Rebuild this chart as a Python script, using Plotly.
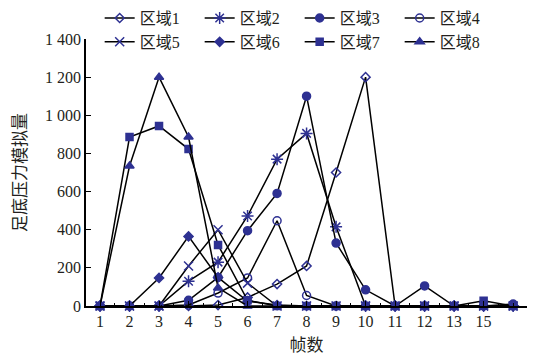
import plotly.graph_objects as go

frames = list(range(1, 16))
x_tick_vals = list(range(1, 15))
x_tick_labels = ["1", "2", "3", "4", "5", "6", "7", "8", "9", "10", "11", "12", "13", "15"]
y_tick_vals = [0, 200, 400, 600, 800, 1000, 1200, 1400]
y_tick_labels = ["0", "200", "400", "600", "800", "1 000", "1 200", "1 400"]

names = ["区域1", "区域2", "区域3", "区域4", "区域5", "区域6", "区域7", "区域8"]
region1 = [0, 0, 0, 0, 5, 45, 115, 210, 700, 1200, 0, 0, 0, 0, 0]
region2 = [0, 0, 0, 130, 230, 472, 770, 905, 415, 0, 0, 0, 0, 0, 0]
region3 = [0, 0, 0, 30, 150, 395, 590, 1100, 330, 85, 0, 105, 0, 0, 10]
region4 = [0, 0, 0, 5, 68, 147, 447, 55, 0, 0, 0, 0, 0, 0, 0]
region5 = [0, 0, 0, 210, 400, 120, 0, 0, 0, 0, 0, 0, 0, 0, 0]
region6 = [0, 0, 147, 365, 150, 25, 5, 0, 0, 0, 0, 0, 0, 0, 0]
region7 = [0, 886, 944, 823, 320, 30, 0, 0, 0, 0, 0, 0, 0, 28, 0]
region8 = [0, 734, 1200, 886, 95, 0, 0, 0, 0, 0, 0, 0, 0, 0, 0]
series = [region1, region2, region3, region4, region5, region6, region7, region8]

symbols = ["diamond-open", "asterisk-open", "circle", "circle-open",
           "x-thin-open", "diamond", "square", "triangle-up"]
sizes = [7, 10, 8, 8, 9, 7, 7, 8]

BLUE = "#2E3192"
FONT = "Times New Roman, Liberation Serif, Noto Sans CJK SC, serif"

fig = go.Figure()
for name, vals, sym, sz in zip(names, series, symbols, sizes):
    fig.add_trace(go.Scatter(
        x=frames, y=vals, name=name, mode="lines+markers",
        line=dict(color="black", width=1.5),
        marker=dict(symbol=sym, size=sz, color=BLUE,
                    line=dict(color=BLUE, width=1.5)),
        cliponaxis=False,
    ))

fig.update_layout(
    width=537, height=356,
    margin=dict(l=86, r=10, t=39, b=50, autoexpand=False),
    paper_bgcolor="white", plot_bgcolor="white",
    font=dict(family=FONT, size=16, color="#231F20"),
    showlegend=True,
    legend=dict(orientation="h", x=0.031, y=1.142, xanchor="left", yanchor="top",
                entrywidth=55, entrywidthmode="pixels",
                font=dict(family=FONT, size=16),
                bgcolor="rgba(0,0,0,0)", itemwidth=30),
    xaxis=dict(
        range=[0.525, 15.47], tickmode="array", tickvals=x_tick_vals,
        ticktext=x_tick_labels, ticks="inside", ticklen=5, tickwidth=1,
        tickcolor="black", showline=True, linecolor="black", linewidth=1.5,
        showgrid=False, zeroline=False,
        minor=dict(ticks="inside", ticklen=3, tickcolor="black", dtick=0.5, tick0=0.5,
                   showgrid=False),
        title=dict(text="帧数", font=dict(size=17), standoff=10),
        tickfont=dict(size=16),
        automargin=False,
    ),
    yaxis=dict(
        range=[0, 1400], tickmode="array", tickvals=y_tick_vals,
        ticktext=y_tick_labels, ticks="inside", ticklen=5, tickwidth=1,
        tickcolor="black", showline=True, linecolor="black", linewidth=1.5,
        showgrid=False, zeroline=False,
        title=dict(text="足底压力模拟量", font=dict(size=17), standoff=14),
        tickfont=dict(size=16),
        automargin=False,
    ),
)

fig.write_html("out.html", config={"displayModeBar": False},
               post_script="document.body.style.margin='0px';")
